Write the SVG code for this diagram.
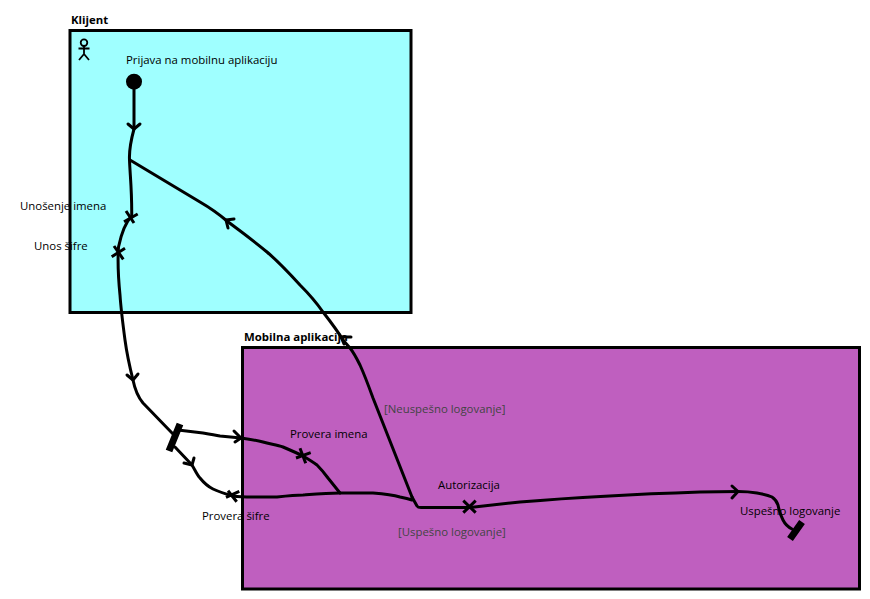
<svg xmlns="http://www.w3.org/2000/svg" width="870" height="599" viewBox="0 0 870 599">
<style>
text{font-family:"Open Sans","Noto Sans","DejaVu Sans",sans-serif;font-size:11.4px;fill:#000}
.b{font-weight:700}
.g{fill:#444}
.c{fill:none;stroke:#000;stroke-width:3;stroke-linecap:round;stroke-linejoin:round}
.s{fill:none;stroke:#000;stroke-width:1.800}
.bar{fill:none;stroke:#000;stroke-width:7}
.x{fill:none;stroke:#000;stroke-width:3}
</style>
<rect width="870" height="599" fill="#fff"/>
<g id="klijent">
<rect x="70" y="30.500" width="341" height="282" fill="#9fffff" stroke="#000" stroke-width="3"/>
<text class="b" x="71" y="24">Klijent</text>
<g id="actor"><circle cx="84" cy="42.700" r="3.300" class="s"/><path class="s" d="M84 46V54M78.500 48.500H89.500M84 54L79 60M84 54L89 60"/></g>
</g>
<g id="mobilna">
<rect x="242.500" y="347.500" width="617" height="241.500" fill="#bf5fbf" stroke="#000" stroke-width="3"/>
<text class="b" x="244" y="341">Mobilna aplikacija</text>
</g>
<g id="connectors">
<path class="c" d="M134 82V129C131 140 129 150 129.500 160C130 175 132 190 131.700 216C126 222 121 235 118.500 247C117.500 262 118.500 280 120 295C121 310 123 325 125 340C127 355 130 368 133 380C135 390 138 397 143 403L173 434"/>
<path class="c" d="M130 160L200 202C212 209 220 215 227 221C240 231 254 241 267 252C280 263 290 274 300 285C308 293 316 302 323 312C330 321 337 330 343 340L350 348C354 353 357 359 360 365C365 376 369 387 373 398L412 497"/>
<path class="c" d="M175 447L192 465C195 470 197 475 200 478C204 483 209 487 213 489C219 492 226 494 233 496C240 497 246 497 253 497C262 497 270 497 277 497C286 496 295 495 303 495C316 494 328 493 340 493C352 493 362 493 373 493C385 494 393 495 400 497C405 498 409 499 412 500"/>
<path class="c" d="M178 430L203 433C209 434 215 435 220 436L241 438C248 439 255 440 263 442C270 444 277 445 283 447C290 450 297 453 303 456C308 459 313 462 317 465C321 469 325 474 328 478L340 493"/>
<path class="c" d="M412 497L417 506Q418 507.500 421 507.500H470L520 502C580 497 640 494 700 492L738 491.500C745 491.500 751 492 757 493C763 494 768 495 772 497C775 499 777 502 778 505C779 510 781 516 783 520C785 524 788 527 792 529"/>
<path class="c" d="M128 124L134 129L140 124"/>
<path class="c" d="M127 375L133 380L138 374"/>
<path class="c" d="M234 431L241 438L235 442"/>
<path class="c" d="M184 463L192 465L194 458"/>
<path class="c" d="M732 486L738 491.500L732 498"/>
<path class="c" d="M228 228L226 220L234 219"/>
<path class="c" d="M344 344L341 337L351 337"/>
<path class="x" d="M126 211L134 223M124 221.700L137.700 214M111.700 256.700L125 248.300M114 246L123.300 259.300M228 490.700L236.700 501.700M226 497.300L239.300 491.300M296 458L310.700 452.700M300 448.300L305.700 463.300M463.300 500.700L475.700 512.700M463.300 512.700L475.700 500.700"/>
<path class="bar" d="M180 424L169 451M802 522L790 539"/>
</g>
<g id="start"><circle cx="134" cy="81.700" r="8" fill="#000"/></g>
<g id="labels">
<text x="126" y="64">Prijava na mobilnu aplikaciju</text>
<text x="20" y="210">Unošenje imena</text>
<text x="34" y="250">Unos šifre</text>
<text x="290" y="438">Provera imena</text>
<text x="202" y="520">Provera šifre</text>
<text x="438" y="489">Autorizacija</text>
<text x="740" y="515">Uspešno logovanje</text>
<text class="g" x="384" y="413">[Neuspešno logovanje]</text>
<text class="g" x="398" y="536">[Uspešno logovanje]</text>
</g>
</svg>
